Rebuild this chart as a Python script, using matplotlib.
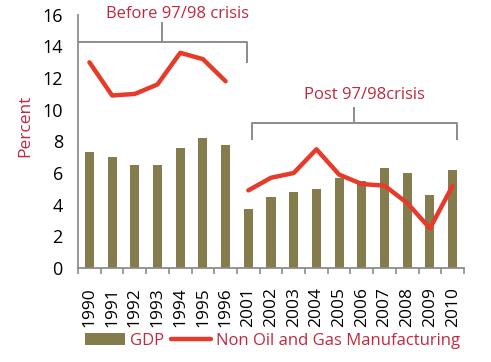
import numpy as np
import matplotlib
matplotlib.use("Agg")
import matplotlib.pyplot as plt
from matplotlib.ticker import FixedLocator

years = ["1990", "1991", "1992", "1993", "1994", "1995", "1996",
         "2001", "2002", "2003", "2004", "2005", "2006", "2007", "2008", "2009", "2010"]
gdp = [7.3, 7.0, 6.5, 6.5, 7.6, 8.2, 7.8,
       3.7, 4.5, 4.8, 5.0, 5.7, 5.5, 6.3, 6.0, 4.6, 6.2]
non_oil_gas = [13.0, 10.9, 11.0, 11.6, 13.6, 13.2, 11.8,
               4.9, 5.7, 6.0, 7.5, 5.9, 5.3, 5.2, 4.1, 2.5, 5.2]
n_before = 7  # 1990-1996, then 2001-2010

plt.rcParams['font.family'] = ['Open Sans', 'DejaVu Sans']

bar_col = '#857c4e'
line_col = '#e63b2a'
text_col = '#c1283f'
grey = '#8c8c8c'

fig = plt.figure(figsize=(4.91, 3.62), dpi=100)
ax = fig.add_axes([0.159, 0.26, 0.786, 0.699])

x = np.arange(len(years))
bars = ax.bar(x, gdp, width=0.4, color=bar_col, label='GDP', zorder=2)
ln, = ax.plot(x[:n_before], non_oil_gas[:n_before], color=line_col, lw=3.2,
              solid_joinstyle='round', solid_capstyle='round', zorder=3,
              label='Non Oil and Gas Manufacturing')
ax.plot(x[n_before:], non_oil_gas[n_before:], color=line_col, lw=3.2,
        solid_joinstyle='round', solid_capstyle='round', zorder=3)

ax.set_xlim(-0.5, len(years) - 0.5)
ax.set_ylim(0, 16)
ax.set_yticks(np.arange(0, 17, 2))
ax.tick_params(axis='y', length=0, pad=11, labelsize=13, colors='black')
ax.set_xticks(x)
ax.set_xticklabels(years, rotation=90)
ax.xaxis.set_minor_locator(FixedLocator(np.arange(-0.5, len(years), 1)))
ax.tick_params(axis='x', which='major', length=0, pad=14, labelsize=12.5)
ax.tick_params(axis='x', which='minor', length=4, width=1.2, color=grey, direction='out')

for s in ['top', 'right']:
    ax.spines[s].set_visible(False)
for s in ['left', 'bottom']:
    ax.spines[s].set_color(grey)
    ax.spines[s].set_linewidth(1.3)

ax.set_ylabel('Percent', color=text_col, fontsize=12.5)
ax.yaxis.set_label_coords(-0.115, 0.56)

# period brackets
ax.plot([-0.5, 6.95, 6.95], [14.3, 14.3, 13.0], color=grey, lw=1.4, clip_on=False)
ax.plot([3.2, 3.2], [14.3, 15.5], color=grey, lw=1.4, clip_on=False)
ax.text(3.9, 16.05, 'Before 97/98 crisis', color=text_col, fontsize=12,
        ha='center', va='center')

ax.plot([7.15, 7.15, 16.2, 16.2], [8.15, 9.15, 9.15, 8.15], color=grey, lw=1.4, clip_on=False)
ax.plot([11.67, 11.67], [9.15, 10.1], color=grey, lw=1.4, clip_on=False)
ax.text(12.1, 10.95, 'Post 97/98crisis', color=text_col, fontsize=12,
        ha='center', va='center')

leg = fig.legend(handles=[bars, ln], loc='lower center', bbox_to_anchor=(0.555, -0.005),
                 ncol=2, frameon=False, fontsize=12, handlelength=2.4,
                 handletextpad=0.3, columnspacing=0.4)
for t in leg.get_texts():
    t.set_color(text_col)

fig.savefig('out.png', dpi=100)
